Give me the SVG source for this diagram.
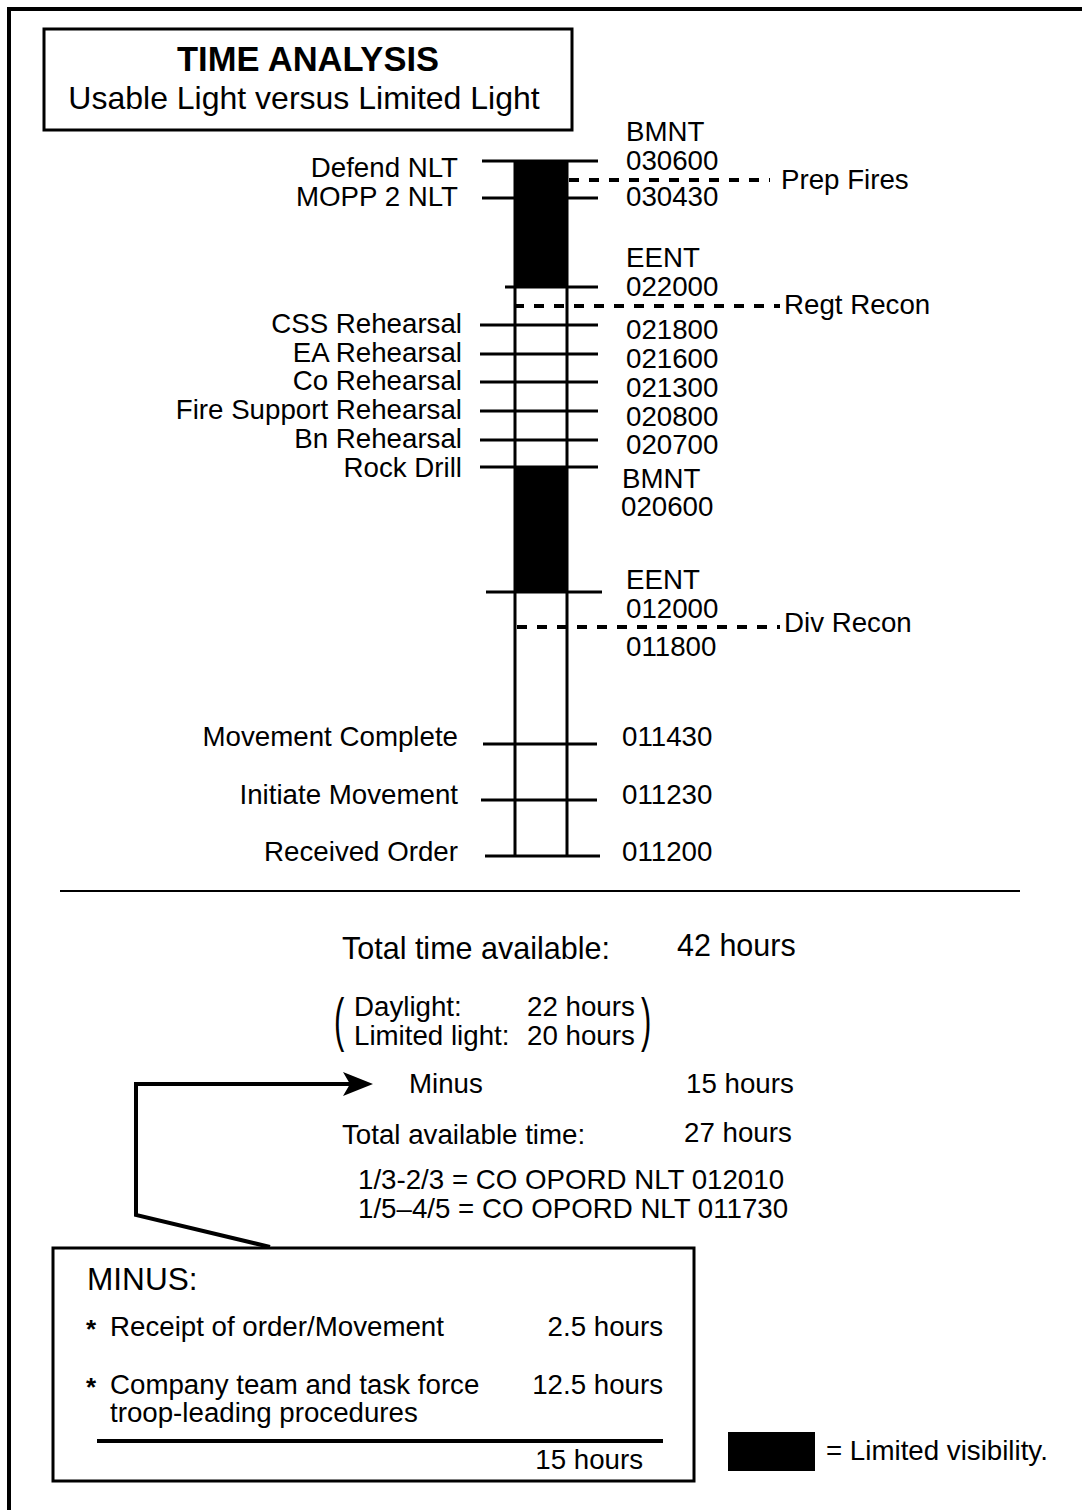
<svg xmlns="http://www.w3.org/2000/svg" width="1082" height="1510" viewBox="0 0 1082 1510">
<style>
text{font-family:"Liberation Sans",Arial,sans-serif;fill:#000;}
.lbl{font-size:27.7px;}
.num{font-size:27.7px;}
.big{font-size:30.5px;}
.r{text-anchor:end;}
.ast{font-size:26px;font-weight:bold;}
.tick{stroke:#000;stroke-width:3;fill:none;}
.dash{stroke:#000;stroke-width:4;stroke-dasharray:10,10;fill:none;}
.line{stroke:#000;stroke-width:3;fill:none;}
</style>
<defs>
<marker id="ah" markerWidth="30" markerHeight="24" refX="22" refY="12" orient="auto" markerUnits="userSpaceOnUse" viewBox="0 0 30 24">
<path d="M0,0 L30,12 L0,24 L7,12 z" fill="#000"/>
</marker>
</defs>
<rect x="0" y="0" width="1082" height="1510" fill="#fff"/>
<g id="frame">
<polyline points="9,1510 9,9 1082,9" fill="none" stroke="#000" stroke-width="4"/>
</g>
<g id="title">
<rect x="44" y="29" width="528" height="101" fill="none" stroke="#000" stroke-width="3"/>
<text x="308" y="71" text-anchor="middle" font-size="34.5" font-weight="bold">TIME ANALYSIS</text>
<text x="304" y="109" text-anchor="middle" font-size="32">Usable Light versus Limited Light</text>
</g>
<g id="timeline">
<rect x="515" y="160" width="52" height="127" fill="#000"/>
<rect x="515" y="467" width="52" height="125" fill="#000"/>
<line class="line" x1="515" y1="160" x2="515" y2="856"/>
<line class="line" x1="567" y1="160" x2="567" y2="856"/>
</g>
<g id="connectors">
<line class="tick" x1="482" y1="161" x2="598" y2="161" stroke-width="4"/>
<line class="tick" x1="482" y1="198" x2="598" y2="198"/>
<line class="tick" x1="505" y1="287" x2="598" y2="287" stroke-width="4"/>
<line class="tick" x1="480" y1="325" x2="598" y2="325"/>
<line class="tick" x1="480" y1="354" x2="598" y2="354" stroke-width="4"/>
<line class="tick" x1="480" y1="382" x2="598" y2="382" stroke-width="4"/>
<line class="tick" x1="480" y1="411" x2="598" y2="411"/>
<line class="tick" x1="480" y1="440" x2="598" y2="440" stroke-width="4"/>
<line class="tick" x1="480" y1="467" x2="598" y2="467"/>
<line class="tick" x1="486" y1="592" x2="602" y2="592"/>
<line class="tick" x1="483" y1="744" x2="597" y2="744"/>
<line class="tick" x1="481" y1="800" x2="597" y2="800" stroke-width="4"/>
<line class="tick" x1="485" y1="856" x2="600" y2="856"/>
<line class="dash" x1="569" y1="180" x2="770" y2="180"/>
<line class="dash" x1="514" y1="306" x2="780" y2="306"/>
<line class="dash" x1="517" y1="627" x2="780" y2="627"/>
<line x1="60" y1="891" x2="1020" y2="891" stroke="#000" stroke-width="2"/>
<polyline points="270,1247 136,1215 136,1084 365,1084" fill="none" stroke="#000" stroke-width="4" marker-end="url(#ah)"/>
</g>
<g id="left-labels" class="lbl">
<text class="r" x="458" y="177">Defend NLT</text>
<text class="r" x="458" y="206">MOPP 2 NLT</text>
<text class="r" x="462" y="333">CSS Rehearsal</text>
<text class="r" x="462" y="362">EA Rehearsal</text>
<text class="r" x="462" y="390">Co Rehearsal</text>
<text class="r" x="462" y="419">Fire Support Rehearsal</text>
<text class="r" x="462" y="448">Bn Rehearsal</text>
<text class="r" x="462" y="477">Rock Drill</text>
<text class="r" x="458" y="746">Movement Complete</text>
<text class="r" x="458" y="804">Initiate Movement</text>
<text class="r" x="458" y="861">Received Order</text>
</g>
<g id="right-labels" class="num">
<text x="626" y="141">BMNT</text>
<text x="626" y="170">030600</text>
<text x="626" y="206">030430</text>
<text x="626" y="267">EENT</text>
<text x="626" y="296">022000</text>
<text x="626" y="339">021800</text>
<text x="626" y="368">021600</text>
<text x="626" y="397">021300</text>
<text x="626" y="426">020800</text>
<text x="626" y="454">020700</text>
<text x="622" y="488">BMNT</text>
<text x="621" y="516">020600</text>
<text x="626" y="589">EENT</text>
<text x="626" y="618">012000</text>
<text x="626" y="656">011800</text>
<text x="622" y="746">011430</text>
<text x="622" y="804">011230</text>
<text x="622" y="861">011200</text>
<text x="781" y="189">Prep Fires</text>
<text x="784" y="314">Regt Recon</text>
<text x="784" y="632">Div Recon</text>
</g>
<g id="summary" class="num">
<text x="342" y="959" class="big">Total time available:</text>
<text x="677" y="956" class="big">42 hours</text>
<text x="334" y="1040" font-size="31" transform="translate(334,1040) scale(1,1.9) translate(-334,-1040)">(</text>
<text x="354" y="1016">Daylight:</text>
<text x="527" y="1016">22 hours</text>
<text x="354" y="1045">Limited light:</text>
<text x="527" y="1045">20 hours</text>
<text x="641" y="1040" font-size="31" transform="translate(641,1040) scale(1,1.9) translate(-641,-1040)">)</text>
<text x="409" y="1093">Minus</text>
<text x="686" y="1093">15 hours</text>
<text x="342" y="1144">Total available time:</text>
<text x="684" y="1142">27 hours</text>
<text x="358" y="1189">1/3-2/3 = CO OPORD NLT 012010</text>
<text x="358" y="1218">1/5–4/5 = CO OPORD NLT 011730</text>
</g>
<g id="minus-box">
<rect x="53" y="1248" width="641" height="233" fill="none" stroke="#000" stroke-width="3"/>
<text x="87" y="1290" font-size="31.6">MINUS:</text>
<text x="86" y="1338" class="ast">*</text>
<text x="110" y="1336" class="num">Receipt of order/Movement</text>
<text x="663" y="1336" class="num r">2.5 hours</text>
<text x="86" y="1396" class="ast">*</text>
<text x="110" y="1394" class="num">Company team and task force</text>
<text x="110" y="1422" class="num">troop-leading procedures</text>
<text x="663" y="1394" class="num r">12.5 hours</text>
<line x1="97" y1="1441" x2="663" y2="1441" stroke="#000" stroke-width="4"/>
<text x="643" y="1469" class="num r">15 hours</text>
</g>
<g id="legend">
<rect x="728" y="1432" width="87" height="39" fill="#000"/>
<text x="826" y="1460" class="num">= Limited visibility.</text>
</g>
</svg>
